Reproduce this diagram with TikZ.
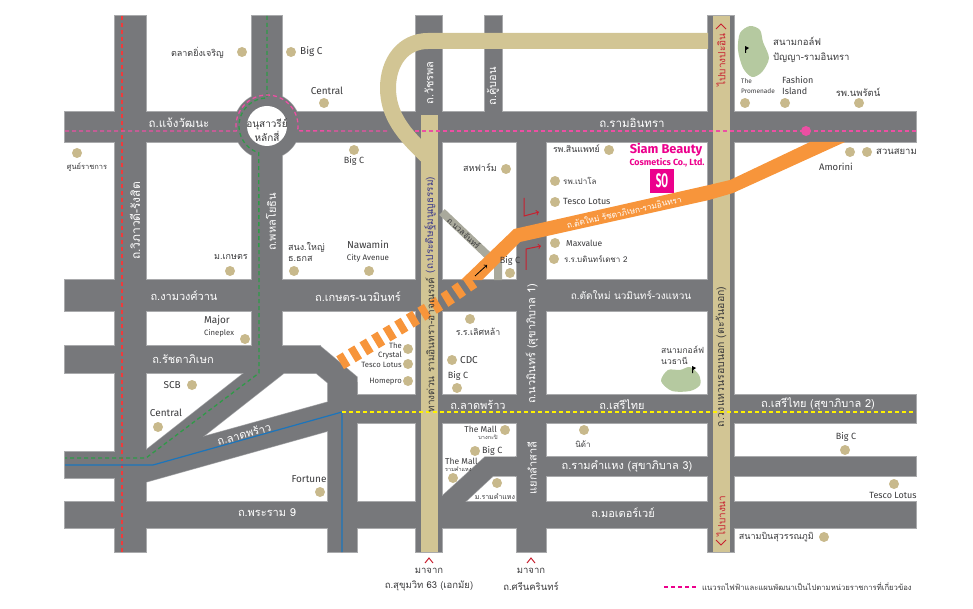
\documentclass[tikz,border=0pt]{standalone}
\usepackage{fontspec}
\setmainfont{Fira Sans}
\newfontfamily\thaifont[Script=Thai]{Loma}
\definecolor{roadgrey}{HTML}{77787B}
\definecolor{rimgrey}{HTML}{A9AAAC}
\definecolor{tanroad}{HTML}{D2C594}
\definecolor{spottan}{HTML}{C8B98C}
\definecolor{newroad}{HTML}{F7953B}
\definecolor{sideroad}{HTML}{A9A99C}
\definecolor{golfgreen}{HTML}{B5C9A0}
\definecolor{railpink}{HTML}{EC4FA3}
\definecolor{railred}{HTML}{EF3B3B}
\definecolor{railgreen}{HTML}{2E9A47}
\definecolor{railblue}{HTML}{1B75BC}
\definecolor{railyellow}{HTML}{FFF200}
\definecolor{brandpink}{HTML}{EC008C}
\definecolor{signred}{HTML}{C8202F}
\definecolor{textdark}{HTML}{3A3A3C}
\definecolor{exprblue}{HTML}{3B3A8C}
\tikzset{
  roadrim/.style={fill=roadgrey,draw=rimgrey,line width=1.2pt},
  roadfill/.style={fill=roadgrey},
  spot/.style={circle,fill=spottan,inner sep=0pt,minimum size=10pt},
  railline/.style={line width=1.3pt,dash pattern=on 4pt off 3pt},
  roadname/.style={inner sep=0pt,text=white,font=\thaifont\fontsize{11}{13}\selectfont},
  tanname/.style={inner sep=0pt,text=textdark,font=\thaifont\fontsize{10}{12}\selectfont},
  thlabel/.style={inner sep=0pt,text=textdark,align=left,font=\thaifont\fontsize{9}{11.5}\selectfont},
  enlabel/.style={inner sep=0pt,text=textdark,align=left,font=\fontsize{10}{12}\selectfont},
  midlabel/.style={inner sep=0pt,text=textdark,align=left,font=\fontsize{9}{11}\selectfont},
  smalllabel/.style={inner sep=0pt,text=textdark,align=left,font=\fontsize{7.7}{9}\selectfont},
  signlabel/.style={inner sep=0pt,text=signred,font=\thaifont\fontsize{10}{12}\selectfont},
  signline/.style={draw=signred,line width=1pt},
  golfflag/.pic={\fill[black] (-1,-3) -- (3,-1) -- (0,1) -- (0,4) -- (-1,4) -- cycle;}
}
\newcommand{\roadnet}[1]{
  \foreach \xa/\ya/\xb/\yb in {115/16/146/552, 252/16/282/373, 416/16/442/552, 485/16/502/112,
    517/112/546/552, 708/16/734/552, 65/112/916/142, 65/280/715/311, 65/346/320/373,
    65/452/146/478, 65/502/916/528, 328/383/357/552, 357/395/916/423, 516/457/916/476}
    {\path[#1] (\xa,\ya) rectangle (\xb,\yb);}
  \path[#1] (244,373) -- (284,373) -- (186,450) -- (146,482) -- (146,450) -- cycle;
  \path[#1] (146,452) -- (202,437) -- (328,402) -- (328,431) -- (146,482) -- cycle;
  \path[#1] (320,346) -- (357,377) -- (357,400) -- (328,400) -- (328,383) -- (316,373) -- (300,373) -- (300,346) -- cycle;
  \path[#1] (485,457) -- (520,457) -- (520,476) -- (493,476) -- (464,503) -- (440,503) -- (440,498) -- cycle;
  \path[#1] (267,126) circle[radius=33];
}
\begin{document}
\begin{tikzpicture}[x=1pt,y=-1pt]
  \useasboundingbox (0,0) rectangle (973,609);

  % roads
  \roadnet{roadrim}
  \roadnet{roadfill}
  \fill[white] (267,126) circle[radius=20];
  \draw[sideroad,line width=8pt] (442,212) -- (498,265) -- (498,280);

  % expressway and ring road
  \draw[tanroad,line width=16pt] (708,41) -- (428,41) .. controls (403,41) and (388,62) .. (388,88) .. controls (388,115) and (403,134) .. (429,158);
  \fill[tanroad] (421,115) rectangle (438,552);
  \fill[tanroad] (713,16) rectangle (729.5,552);

  % new road
  \fill[newroad] (810,142) -- (845,142) -- (733,193) -- (709,200) -- (520,242) -- (482,280) -- (461,280) -- (514,229) -- (709,185) -- (730,180) -- cycle;
  \draw[newroad,line width=15pt,dash pattern=on 7.5pt off 6pt] (473,281) -- (445,300) -- (338,364);

  % rail lines
  \draw[railline,railred] (122,16) -- (122,552);
  \draw[railline,railgreen] (267,16) -- (267,98) -- plot[domain=270:107,samples=30] ({267+28*cos(\x)},{126+28*sin(\x)}) -- (259,373) -- (146,458) -- (65,458);
  \draw[railline,railpink] (65,131) -- (236,131) -- plot[domain=171:369,samples=40] ({267+31*cos(\x)},{126+31*sin(\x)}) -- (387,131);
  \draw[railline,railpink] (415,131) -- (916,131);
  \fill[railpink] (806,131) circle[radius=5];
  \draw[railblue,line width=1.2pt] (65,465) -- (153,465) -- (342,412) -- (342,552);
  \draw[railline,railyellow] (342,412) -- (916,412);

  % golf courses
  \fill[golfgreen] plot[smooth cycle] coordinates {(750,26) (760,30) (763,42) (769,58) (762,72) (752,77) (743,68) (738,50) (740,33)};
  \fill[golfgreen] plot[smooth cycle] coordinates {(661,381) (668,370) (680,370) (690,367) (699,375) (700,385) (690,391) (672,391)};
  \pic at (746,49) {golfflag};
  \pic at (693,369) {golfflag};

  % places
  \foreach \px/\py [count=\i] in {242/52, 291/52, 324/103, 354/150, 77/153, 230/271, 294/271, 369/271,
    506/169, 609/150, 555/181, 555/202, 555/243, 554/259, 510/273, 745/103, 785/103, 859/103,
    850/152, 867/152, 245/339, 192/385, 158/427, 320/492, 408/349, 408/364, 408/381, 470/319,
    452/360, 457/388, 505/430, 475/451, 453/478, 497/483, 584/430, 845/450, 894/484, 824/537}
    \node[spot] (spot\i) at (\px,\py) {};

  % road names
  \node[roadname,font=\thaifont\fontsize{11.5}{13}\selectfont] (chaeng) at (179,123) {ถ.แจ้งวัฒนะ};
  \node[roadname,font=\thaifont\fontsize{11.5}{13}\selectfont] (ramin) at (632,123) {ถ.รามอินทรา};
  \node[roadname,rotate=90,font=\thaifont\fontsize{12}{14}\selectfont] (vibha) at (135,221) {ถ.วิภาวดี-รังสิต};
  \node[roadname,rotate=90] (phahon) at (271,222) {ถ.พหลโยธิน};
  \node[roadname,rotate=90] (watcha) at (429,83) {ถ.วัชรพล};
  \node[roadname,rotate=90] (khubon) at (493,86) {ถ.คู้บอน};
  \node[roadname] (ngam) at (184,296) {ถ.งามวงศ์วาน};
  \node[roadname] (kaset) at (358,297) {ถ.เกษตร-นวมินทร์};
  \node[roadname,font=\thaifont\fontsize{10}{12}\selectfont] (tatmai) at (631,295) {ถ.ตัดใหม่ นวมินทร์-วงแหวน};
  \node[roadname] (ratcha) at (183,359) {ถ.รัชดาภิเษก};
  \node[roadname,rotate=15] (ladA) at (244,434) {ถ.ลาดพร้าว};
  \node[roadname] (ladB) at (478,405) {ถ.ลาดพร้าว};
  \node[roadname] (seriA) at (622,405) {ถ.เสรีไทย};
  \node[roadname] (seriB) at (818,404) {ถ.เสรีไทย (สุขาภิบาล 2)};
  \node[roadname,rotate=90] (nawamin) at (532,344) {ถ.นวมินทร์ (สุขาภิบาล 1)};
  \node[roadname,rotate=90] (lamsali) at (532,468) {แยกลำสาลี};
  \node[roadname] (ramkh) at (627,466) {ถ.รามคำแหง (สุขาภิบาล 3)};
  \node[roadname] (rama) at (267,513) {ถ.พระราม 9};
  \node[roadname] (motor) at (623,513) {ถ.มอเตอร์เวย์};
  \node[roadname,rotate=13,font=\thaifont\fontsize{8.3}{10}\selectfont] (cutroad) at (624,212) {ถ.ตัดใหม่ รัชดาภิเษก-รามอินทรา};
  \node[tanname,rotate=-43,font=\thaifont\fontsize{8}{10}\selectfont] (nuan) at (464,233) {ถ.นวลจันทร์};
  \node[tanname,rotate=90] (expr) at (430,345) {ทางด่วน รามอินทรา-อาจณรงค์};
  \node[tanname,rotate=90,text=exprblue] (pradit) at (430,225) {(ถ.ประดิษฐ์มนูญธรรม)};
  \node[tanname,rotate=90,font=\thaifont\fontsize{10.5}{12}\selectfont] (ring) at (721,357) {ถ.วงแหวนรอบนอก (ตะวันออก)};

  % signs
  \node[signlabel,rotate=90] (bangpa) at (721,60) {ไปบางปะอิน};
  \node[signlabel,rotate=90] (bangna) at (721,516) {ไปบางนา};
  \draw[signline] (716,29) -- (721,24) -- (726,29);
  \draw[signline] (716,540) -- (721,545) -- (726,540);
  \draw[signline,->] (524,198) -- (524,216) -- (539,212);
  \draw[signline,->] (526,270) -- (526,249) -- (541,246);
  \draw[black,line width=0.8pt,->] (475,276) -- (487,265);

  % place names
  \node[thlabel,font=\thaifont\fontsize{10}{12}\selectfont,align=center] (monument) at (267,130) {อนุสาวรีย์\\หลักสี่};
  \node[thlabel,anchor=east] (talad) at (224,53) {ตลาดยิ่งเจริญ};
  \node[enlabel,anchor=west] (bigcA) at (300,52) {Big C};
  \node[enlabel] (centralA) at (327,91) {Central};
  \node[midlabel] (bigcB) at (354,161) {Big C};
  \node[thlabel,font=\thaifont\fontsize{7.5}{9}\selectfont] (sunrat) at (87,167) {ศูนย์ราชการ};
  \node[thlabel] (kasetuni) at (231,257) {ม.เกษตร};
  \node[thlabel,anchor=west] (baac) at (288,252) {สนง.ใหญ่\\ธ.ธกส};
  \node[enlabel] (nawa) at (368,245) {Nawamin};
  \node[smalllabel,font=\fontsize{8}{10}\selectfont] (cityav) at (368,258) {City Avenue};
  \node[thlabel,anchor=east] (saha) at (497,168) {สหฟาร์ม};
  \node[thlabel,anchor=east,font=\thaifont\fontsize{8.8}{10}\selectfont] (sinp) at (600,149) {รพ.สินแพทย์};
  \node[thlabel,anchor=west,font=\thaifont\fontsize{8}{10}\selectfont] (paolo) at (563,181) {รพ.เปาโล};
  \node[midlabel,anchor=west] (lotusA) at (563,201) {Tesco Lotus};
  \node[midlabel,anchor=west,font=\fontsize{8.5}{10}\selectfont] (maxv) at (566,243) {Maxvalue};
  \node[thlabel,anchor=west,font=\thaifont\fontsize{8}{10}\selectfont] (bodin) at (564,259) {ร.ร.บดินทร์เดชา 2};
  \node[midlabel] (bigcC) at (510,261) {Big C};
  \node[inner sep=0pt,text=brandpink,font=\bfseries\fontsize{12.8}{14}\selectfont] (siam) at (666,150) {Siam Beauty};
  \node[inner sep=0pt,text=brandpink,font=\bfseries\fontsize{8.9}{10}\selectfont] (cosme) at (667,163) {Cosmetics Co., Ltd.};
  \node[fill=brandpink,text=white,inner sep=0pt,minimum width=24pt,minimum height=24pt,font=\bfseries\fontsize{13}{15}\selectfont] (logo) at (662,181) {\scalebox{0.75}[1.5]{SO}};
  \node[thlabel,anchor=west,font=\thaifont\fontsize{9.5}{15}\selectfont] (golfA) at (773,50) {สนามกอล์ฟ\\ปัญญา-รามอินทรา};
  \node[smalllabel,anchor=west,font=\fontsize{6.5}{10.5}\selectfont] (prom) at (741,86) {The\\Promenade};
  \node[midlabel,anchor=west] (fashion) at (782,86) {Fashion\\Island};
  \node[thlabel,font=\thaifont\fontsize{9.5}{12}\selectfont] (nopparat) at (858,92) {รพ.นพรัตน์};
  \node[thlabel,anchor=west,font=\thaifont\fontsize{9.5}{12}\selectfont] (suan) at (876,152) {สวนสยาม};
  \node[midlabel,font=\fontsize{9.5}{11}\selectfont] (amorini) at (836,167) {Amorini};
  \node[enlabel,anchor=west] (major) at (204,321) {Major};
  \node[smalllabel,anchor=west] (cine) at (204,333) {Cineplex};
  \node[enlabel,anchor=east] (scb) at (181,385) {SCB};
  \node[enlabel] (centralB) at (166,413) {Central};
  \node[enlabel] (fortune) at (309,479) {Fortune};
  \node[smalllabel,anchor=east,align=right] (crystal) at (402,351) {The\\Crystal};
  \node[smalllabel,anchor=east] (lotusB) at (402,365) {Tesco Lotus};
  \node[smalllabel,anchor=east] (homepro) at (402,382) {Homepro};
  \node[thlabel,font=\thaifont\fontsize{8.8}{10}\selectfont] (lert) at (478,332) {ร.ร.เลิศหล้า};
  \node[midlabel,anchor=west,font=\fontsize{10}{12}\selectfont] (cdc) at (460,360) {CDC};
  \node[midlabel] (bigcD) at (458,376) {Big C};
  \node[midlabel,anchor=east,font=\fontsize{8.5}{10}\selectfont] (mallA) at (497,429) {The Mall};
  \node[thlabel,font=\thaifont\fontsize{5.5}{7}\selectfont] (kapi) at (488,437) {บางกะปิ};
  \node[midlabel,anchor=west] (bigcE) at (482,451) {Big C};
  \node[midlabel,anchor=west,font=\fontsize{8.5}{10}\selectfont] (mallB) at (445,461) {The Mall};
  \node[thlabel,anchor=west,font=\thaifont\fontsize{5.5}{7}\selectfont] (kamB) at (445,469) {รามคำแหง};
  \node[thlabel,font=\thaifont\fontsize{7}{9}\selectfont] (muram) at (495,497) {ม.รามคำแหง};
  \node[thlabel,font=\thaifont\fontsize{8}{10}\selectfont] (nida) at (583,444) {นิด้า};
  \node[thlabel,anchor=west,font=\thaifont\fontsize{8.5}{11}\selectfont] (golfB) at (661,355) {สนามกอล์ฟ\\นวธานี};
  \node[midlabel] (bigcF) at (846,437) {Big C};
  \node[midlabel] (lotusC) at (893,495) {Tesco Lotus};
  \node[thlabel,anchor=east] (suvarna) at (814,537) {สนามบินสุวรรณภูมิ};

  % from below
  \draw[signline] (425,563) -- (429,558) -- (433,563);
  \draw[signline] (527,563) -- (531,558) -- (535,563);
  \node[thlabel,font=\thaifont\fontsize{9.5}{12}\selectfont] (fromA) at (429,571) {มาจาก};
  \node[thlabel,font=\thaifont\fontsize{9.5}{12}\selectfont] (sukh) at (429,586) {ถ.สุขุมวิท 63 (เอกมัย)};
  \node[thlabel,font=\thaifont\fontsize{9.5}{12}\selectfont] (fromB) at (531,571) {มาจาก};
  \node[thlabel,font=\thaifont\fontsize{9.5}{12}\selectfont] (srin) at (531,586) {ถ.ศรีนครินทร์};

  % legend
  \coordinate (legA) at (664,587);
  \coordinate (legB) at (697,587);
  \draw[railline,brandpink] (legA) -- (legB);
  \node[thlabel,anchor=west,font=\thaifont\fontsize{7.7}{10}\selectfont] (legend) at (702,587) {แนวรถไฟฟ้าและแผนพัฒนาเป็นไปตามหน่วยราชการที่เกี่ยวข้อง};
\end{tikzpicture}
\end{document}
